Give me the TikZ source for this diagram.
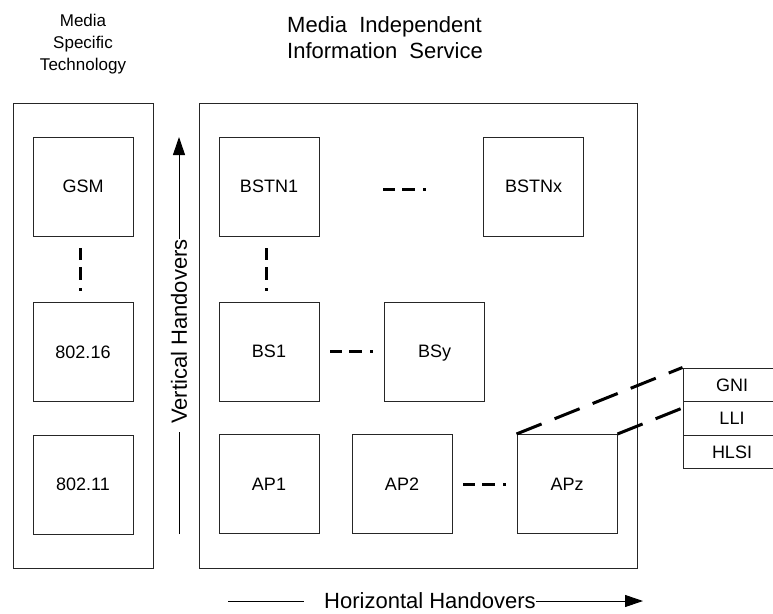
\documentclass[tikz,border=0pt]{standalone}
\usepackage{fontspec}
\setmainfont{Liberation Sans}
\usetikzlibrary{arrows.meta,calc}
\begin{document}
\begin{tikzpicture}[x=1pt,y=-1pt,
  box/.style={draw=black!85, line width=1pt, minimum width=100pt, minimum height=99pt, inner sep=0pt, text height=12.9pt, text depth=0pt, font=\fontsize{18}{21}\selectfont},
  panel/.style={draw=black!85, line width=1pt, inner sep=0pt},
  conn/.style={line width=3pt, dash pattern=on 12pt off 7pt on 13pt off 8pt on 2.5pt off 60pt},
  longdash/.style={line width=3pt, dash pattern=on 27pt off 14pt},
  stackbox/.style={draw=black!85, line width=1pt, minimum width=98pt, minimum height=33.5pt, inner sep=0pt, text height=12.9pt, text depth=0pt, font=\fontsize{18}{21}\selectfont},
  lbl/.style={font=\fontsize{17}{20}\selectfont, inner sep=0pt},
  ttl/.style={font=\fontsize{22}{26}\selectfont, inner sep=0pt},
  hand/.style={font=\fontsize{22}{26}\selectfont, inner sep=0pt},
  arr/.style={line width=1pt, -{Triangle[length=18pt,width=12pt]}}
]
\useasboundingbox[fill=white] (0,0) rectangle (773,613);

% titles
\node[lbl, anchor=base] (t1) at (83,27) {Media};
\node[lbl, anchor=base] (t2) at (83,48.5) {Specific};
\node[lbl, anchor=base] (t3) at (83,70) {Technology};
\node[ttl, anchor=base west] (m1) at (287,32) {Media\ \ Independent};
\node[ttl, anchor=base west] (m2) at (287,58) {Information\ \ Service};

% panels
\node[panel, minimum width=140pt, minimum height=465pt] (lpanel) at (83,335.5) {};
\node[panel, minimum width=438pt, minimum height=465pt] (mpanel) at (418,335.5) {};

% left boxes
\node[box] (gsm) at (83,186.5) {GSM};
\node[box] (w16) at (83,352) {802.16};
\node[box] (w11) at (83,484.5) {802.11};

% main boxes
\node[box] (bstn1) at (269,186.5) {BSTN1};
\node[box] (bstnx) at (533.5,186.5) {BSTNx};
\node[box] (bs1) at (269,351.5) {BS1};
\node[box] (bsy) at (434.5,351.5) {BSy};
\node[box] (ap1) at (269,484) {AP1};
\node[box] (ap2) at (402,484) {AP2};
\node[box] (apz) at (567,484) {APz};

% stack
\node[stackbox] (gni) at (732,384.75) {GNI};
\node[stackbox] (lli) at (732,418.25) {LLI};
\node[stackbox] (hlsi) at (732,451.75) {HLSI};

% dashed connectors
\draw[conn, shorten <=11.5pt, shorten >=9.5pt] ([xshift=-3pt]gsm.south) -- ([xshift=-3pt]w16.north);
\draw[conn, shorten <=11.5pt, shorten >=9.5pt] ([xshift=-3pt]bstn1.south) -- ([xshift=-3pt]bs1.north);
\draw[conn, shorten <=63.5pt, shorten >=55.5pt] ([yshift=-2.5pt]bstn1.east) -- ([yshift=-2.5pt]bstnx.west);
\draw[conn, shorten <=10.5pt, shorten >=8.5pt] (bs1.east) -- (bsy.west);
\draw[conn, shorten <=10.5pt, shorten >=8.5pt] (ap2.east) -- (apz.west);

\draw[longdash] (apz.north west) -- (gni.north west);
\draw[longdash] (apz.north east) -- ($(lli.north west)+(0,7)$);

% vertical handovers
\coordinate (vbot) at (179,534);
\coordinate (vtop) at (179,137);
\node[hand, rotate=90] (vlab) at (179,331.5) {Vertical Handovers};
\draw[line width=1pt, shorten >=8pt] (vbot) -- (vlab.west);
\draw[arr] (vlab.east) -- (vtop);

% horizontal handovers
\coordinate (hl) at (228,601);
\coordinate (hr) at (643,601);
\node[hand] (hlab) at (430,601) {Horizontal Handovers};
\draw[line width=1pt, shorten >=20pt] (hl) -- (hlab.west);
\draw[arr] (hlab.east) -- (hr);
\end{tikzpicture}
\end{document}
